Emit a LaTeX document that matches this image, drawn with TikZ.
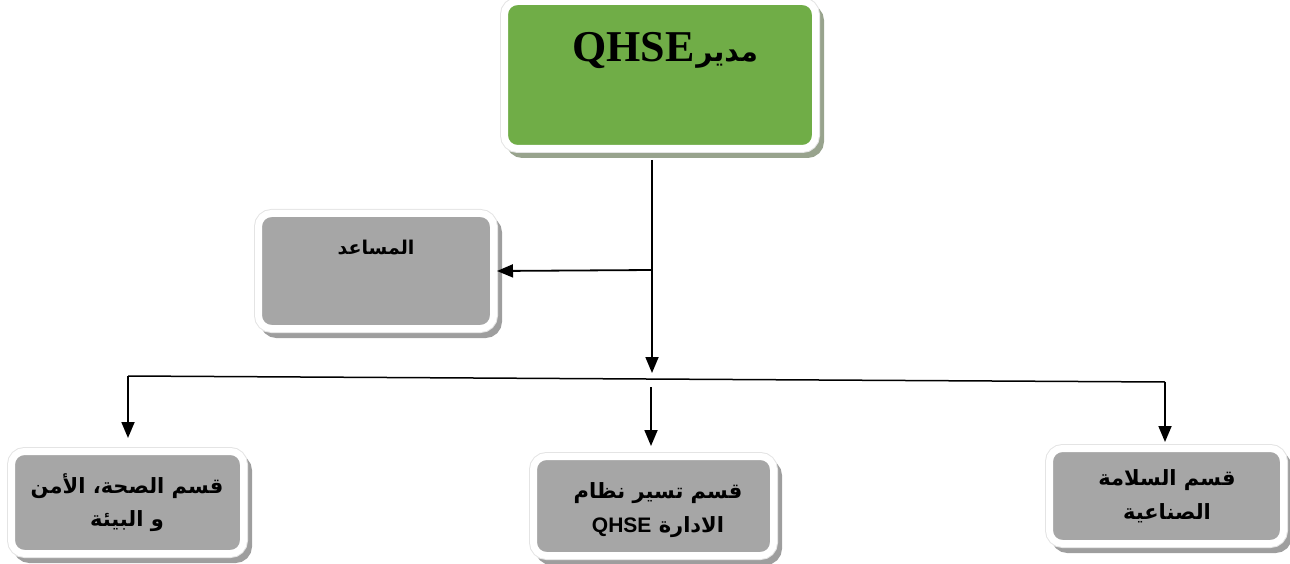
\documentclass[tikz,border=0pt]{standalone}
\usepackage{fontspec}
\usetikzlibrary{arrows.meta}
\TeXXeTstate=1
\newfontfamily\arabicfont[Script=Arabic]{DejaVu Sans}
\newfontfamily\timesfont{Liberation Serif}
\newfontfamily\arialfont{Liberation Sans}
\definecolor{boxgreen}{HTML}{70AD47}
\definecolor{boxgray}{HTML}{A6A6A6}
\definecolor{shadowgray}{HTML}{9E9E9E}
\definecolor{shadowgreen}{HTML}{98A38D}
\definecolor{rimgray}{HTML}{E4E4E4}
\tikzset{
  box/.style={draw=white, line width=7pt, rounded corners=13pt, inner sep=0pt,
    preaction={draw=#1, fill=#1, line width=7pt, transform canvas={xshift=5pt, yshift=-6pt}},
    preaction={draw=rimgray, line width=9pt}},
  box/.default=shadowgray,
  arr/.style={line width=1.8pt, -{Triangle[length=16pt,width=13pt]}},
  busline/.style={line width=1.5pt},
  atext/.style={font=\arabicfont\bfseries, align=center, inner sep=0pt},
}
\begin{document}
\begin{tikzpicture}[x=1pt,y=-1pt]
\useasboundingbox (0,0) rectangle (1290,564);
% boxes
\node[box=shadowgreen, fill=boxgreen, minimum width=311pt, minimum height=147pt] (mgr) at (660,75) {};
\node[box, fill=boxgray, minimum width=235pt, minimum height=115pt] (help) at (376,271) {};
\node[box, fill=boxgray, minimum width=232pt, minimum height=102pt] (hse) at (127.5,502.5) {};
\node[box, fill=boxgray, minimum width=240pt, minimum height=99pt] (sys) at (653.5,506) {};
\node[box, fill=boxgray, minimum width=234pt, minimum height=95pt] (safe) at (1166.5,496) {};
% texts
\node[atext] (mgrT) at (665,51) {\beginR{\fontsize{28}{28}\selectfont مدير}\kern2pt{\beginL\timesfont\bfseries\fontsize{44}{44}\selectfont QHSE\endL}\endR};
\node[atext, font=\arabicfont\bfseries\fontsize{19}{20}\selectfont] (helpT) at (376,248) {\beginR المساعد\endR};
\node[atext, font=\arabicfont\bfseries\fontsize{21}{33}\selectfont] (hseT) at (127,503) {\beginR قسم الصحة، الأمن\endR\\\beginR و البيئة\endR};
\node[atext, font=\arabicfont\bfseries\fontsize{21}{34}\selectfont] (sysT) at (658,510) {\beginR قسم تسير نظام\endR\\\beginR الادارة {\beginL\arialfont\bfseries QHSE\endL}\endR};
\node[atext, font=\arabicfont\bfseries\fontsize{21}{34}\selectfont] (safeT) at (1167,496) {\beginR قسم السلامة\endR\\\beginR الصناعية\endR};
% connectors
\coordinate (top) at (652,160);
\coordinate (mid) at (652,270);
\coordinate (busIn) at (652,373);
\coordinate (busL) at (128,376);
\coordinate (busR) at (1165,382);
\coordinate (midOut) at (651,387);
\draw[arr] (top) -- (busIn);
\draw[arr] (mid) -- (help.east);
\draw[busline] (busL) -- (busR);
\draw[arr] (busL) -- (busL |- 0,438);
\draw[arr] (midOut) -- (651,446);
\draw[arr] (busR) -- (busR |- 0,442);
\end{tikzpicture}
\end{document}
